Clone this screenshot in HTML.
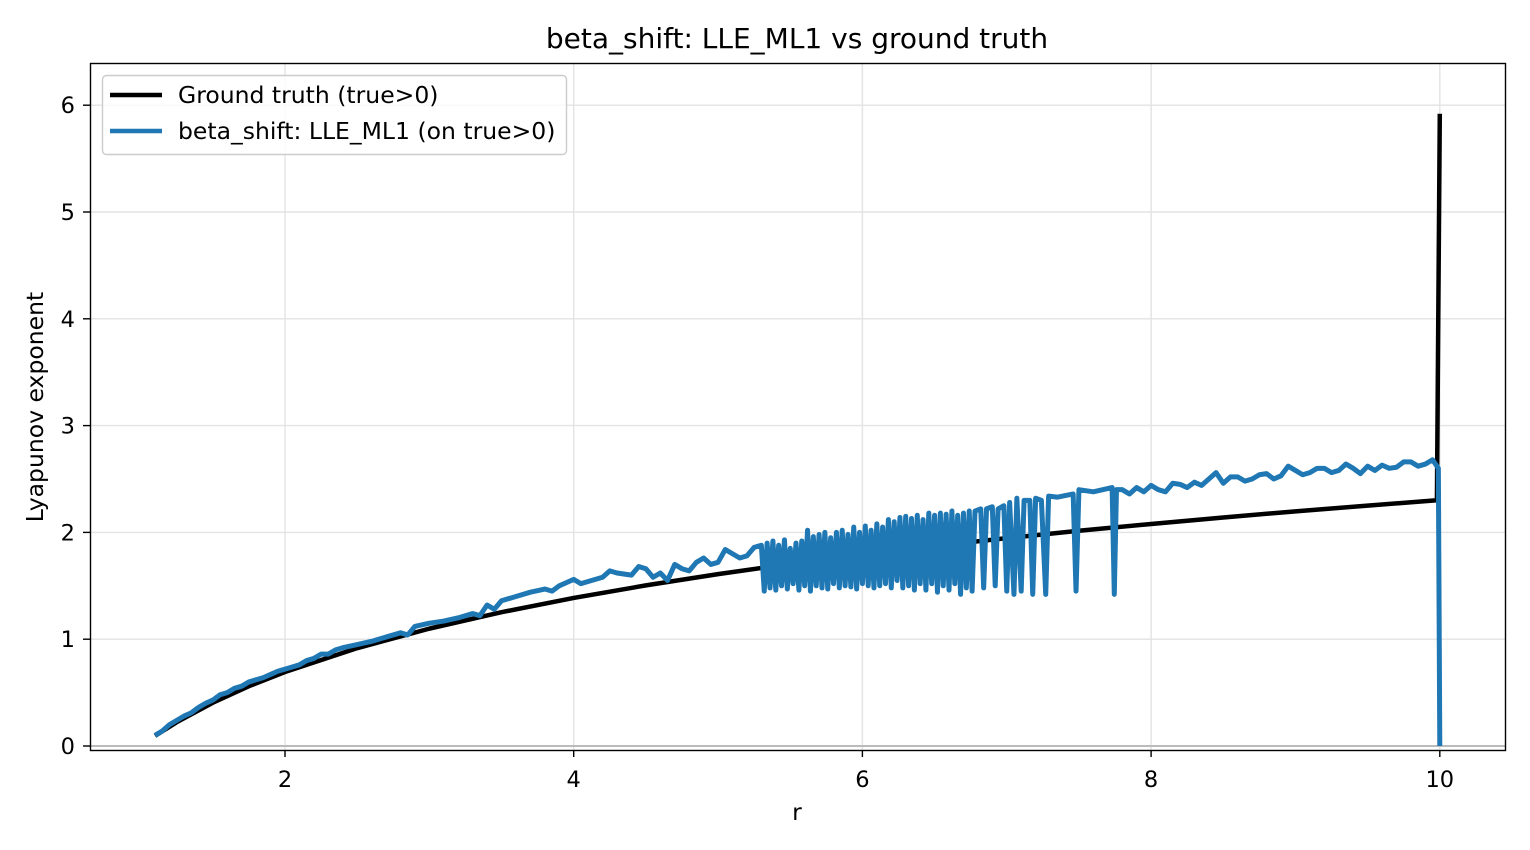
<!DOCTYPE html>
<html><head><meta charset="utf-8"><style>
body{margin:0;background:#fff;}
svg{display:block;font-family:"DejaVu Sans","Liberation Sans",sans-serif;}
</style></head><body>
<svg id="chart" width="1530" height="850" viewBox="0 0 1530 850" xmlns="http://www.w3.org/2000/svg">
<rect width="1530" height="850" fill="#fff"/>
<text x="797" y="48" font-size="28" text-anchor="middle" fill="#000">beta_shift: LLE_ML1 vs ground truth</text>
<g id="grid"></g>
<line x1="90" x2="1505" y1="746" y2="746" stroke="#bbb" stroke-width="2"/>
<g id="ticks"></g>
<g id="series"></g>
<rect x="90.5" y="63.5" width="1415" height="687" fill="none" stroke="#000" stroke-width="1.4"/>
<text x="797" y="820" font-size="23.5" text-anchor="middle">r</text>
<text transform="translate(43,407) rotate(-90)" font-size="23.5" text-anchor="middle">Lyapunov exponent</text>
<g>
<rect x="102.5" y="75.5" width="464" height="79" rx="4" fill="#fff" fill-opacity="0.8" stroke="#ccc" stroke-width="1.4"/>
<line x1="110" y1="95" x2="162" y2="95" stroke="#000" stroke-width="4.5"/>
<text x="178" y="103" font-size="23.5">Ground truth (true&gt;0)</text>
<line x1="110" y1="131" x2="162" y2="131" stroke="#1f77b4" stroke-width="4.5"/>
<text x="178" y="139" font-size="23.5">beta_shift: LLE_ML1 (on true&gt;0)</text>
</g>
</svg>
<script>
const xTicks=[2,4,6,8,10];
const yTicks=[0,1,2,3,4,5,6];
const truthR=[1.1,1.25,1.5,1.75,2,2.5,3,3.5,4,4.5,5,5.5,6,6.5,7,7.5,8,8.5,9,9.5,9.98,10.0];
const truthV=[0.095,0.223,0.405,0.560,0.693,0.916,1.099,1.253,1.386,1.504,1.609,1.705,1.792,1.872,1.946,2.015,2.079,2.140,2.197,2.251,2.301,5.92];
const mlR=[1.1,1.15,1.2,1.25,1.3,1.35,1.4,1.45,1.5,1.55,1.6,1.65,1.7,1.75,1.8,1.85,1.9,1.95,2.0,2.05,2.1,2.15,2.2,2.25,2.3,2.35,2.4,2.5,2.6,2.7,2.75,2.8,2.85,2.9,3.0,3.1,3.2,3.3,3.35,3.4,3.45,3.5,3.6,3.7,3.8,3.85,3.9,4.0,4.05,4.1,4.2,4.25,4.3,4.4,4.45,4.5,4.55,4.6,4.65,4.7,4.75,4.8,4.85,4.9,4.95,5.0,5.05,5.1,5.15,5.2,5.25,5.3,
5.32,5.34,5.36,5.38,5.40,5.42,5.44,5.46,5.48,5.50,5.52,5.54,5.56,5.58,5.60,5.62,5.64,5.66,5.68,5.70,5.72,5.74,5.76,5.78,5.80,5.82,5.84,5.86,5.88,5.90,5.92,5.94,5.96,5.98,6.00,6.02,6.04,6.06,6.08,6.10,6.12,6.14,6.16,6.18,6.20,6.22,6.24,6.26,6.28,6.30,6.32,6.34,6.36,6.38,6.40,6.42,6.44,6.46,6.48,6.50,6.52,6.54,6.56,6.58,6.60,6.62,6.64,6.66,6.68,6.70,6.72,6.74,6.76,6.78,6.82,6.84,6.86,6.90,6.92,6.94,6.98,7.00,7.02,7.05,7.07,7.10,7.12,7.16,7.18,7.20,7.24,7.27,7.29,7.35,7.46,7.48,7.50,7.60,7.73,7.745,7.76,
7.8,7.85,7.9,7.95,8.0,8.05,8.1,8.15,8.2,8.25,8.3,8.35,8.4,8.45,8.5,8.55,8.6,8.65,8.7,8.75,8.8,8.85,8.9,8.95,9.0,9.05,9.1,9.15,9.2,9.25,9.3,9.35,9.4,9.45,9.5,9.55,9.6,9.65,9.7,9.75,9.8,9.85,9.9,9.95,9.99,10.0];
const mlV=[0.10,0.14,0.20,0.24,0.28,0.31,0.36,0.40,0.43,0.48,0.50,0.54,0.56,0.60,0.62,0.64,0.67,0.70,0.72,0.74,0.76,0.80,0.82,0.86,0.86,0.90,0.92,0.95,0.98,1.02,1.04,1.06,1.04,1.12,1.15,1.17,1.20,1.24,1.22,1.32,1.28,1.36,1.40,1.44,1.47,1.45,1.50,1.56,1.52,1.54,1.58,1.64,1.62,1.60,1.68,1.66,1.58,1.62,1.55,1.70,1.66,1.64,1.72,1.76,1.70,1.72,1.84,1.80,1.76,1.78,1.86,1.88,
1.45,1.90,1.48,1.92,1.46,1.88,1.50,1.93,1.47,1.85,1.52,1.90,1.46,1.92,1.50,2.02,1.45,1.96,1.50,1.98,1.48,2.00,1.47,1.95,1.52,2.00,1.48,2.02,1.50,1.98,1.49,2.05,1.47,2.00,1.52,2.06,1.50,2.02,1.48,2.08,1.50,2.05,1.52,2.12,1.48,2.10,1.55,2.14,1.48,2.15,1.50,2.13,1.46,2.16,1.52,2.12,1.46,2.18,1.52,2.16,1.44,2.18,1.50,2.17,1.46,2.20,1.52,2.16,1.42,2.18,1.48,2.20,1.45,2.20,2.22,1.48,2.22,2.24,1.50,2.22,2.25,1.45,2.28,1.42,2.32,1.45,2.30,2.30,1.42,2.32,2.30,1.42,2.34,2.33,2.36,1.45,2.40,2.38,2.42,1.42,2.40,
2.40,2.36,2.42,2.38,2.44,2.40,2.38,2.46,2.45,2.42,2.47,2.44,2.50,2.56,2.46,2.52,2.52,2.48,2.50,2.54,2.55,2.50,2.53,2.62,2.58,2.54,2.56,2.60,2.60,2.56,2.58,2.64,2.60,2.55,2.62,2.58,2.63,2.60,2.61,2.66,2.66,2.62,2.64,2.68,2.60,0.0];
const X=v=>285+(v-2)*144.35;
const Y=v=>746-v*106.8;
const NS="http://www.w3.org/2000/svg";
function mk(tag,attrs,parent){const e=document.createElementNS(NS,tag);for(const k in attrs)e.setAttribute(k,attrs[k]);parent.appendChild(e);return e;}
const grid=document.getElementById('grid'),ticks=document.getElementById('ticks'),series=document.getElementById('series');
xTicks.forEach(t=>{
  const g=mk('line',{x1:X(t),x2:X(t),y1:63,y2:750,stroke:'#e3e3e3','stroke-width':1.4},grid);
  
  
  mk('line',{x1:X(t),x2:X(t),y1:750,y2:757,stroke:'#000','stroke-width':1.4},ticks);
  const tx=mk('text',{x:X(t),y:787,'font-size':22.5,'text-anchor':'middle'},ticks);
  tx.textContent=t;
  
  
});
yTicks.forEach(t=>{
  const g=mk('line',{x1:90,x2:1505,y1:Y(t),y2:Y(t),stroke:'#e3e3e3','stroke-width':1.4},grid);
  
  
  mk('line',{x1:83,x2:90,y1:Y(t),y2:Y(t),stroke:'#000','stroke-width':1.4},ticks);
  const tx=mk('text',{x:75,y:Y(t)+8,'font-size':22.5,'text-anchor':'end'},ticks);
  tx.textContent=t;
  
  
});
const p1=mk('polyline',{points:truthR.map((r,i)=>X(r)+','+Y(truthV[i])).join(' '),fill:'none',stroke:'#000','stroke-width':4.5,'stroke-linejoin':'round'},series);


const p2=mk('polyline',{points:mlR.map((r,i)=>X(r)+','+Y(mlV[i])).join(' '),fill:'none',stroke:'#1f77b4','stroke-width':5,'stroke-linejoin':'round'},series);


</script>
</body></html>
